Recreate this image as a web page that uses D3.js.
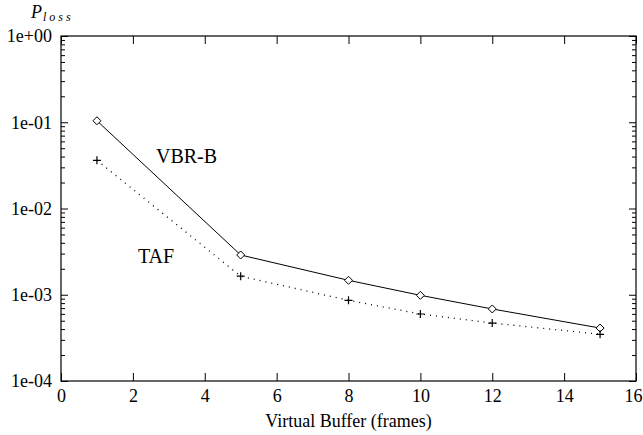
<!DOCTYPE html>
<html>
<head>
<meta charset="utf-8">
<script src="https://cdn.jsdelivr.net/npm/d3@7"></script>
<style>
  body { margin: 0; background: #fff; }
  svg { display: block; }
  svg text { font-family: "Liberation Serif", "Times New Roman", serif; fill: #000; }
  .axis text { font-size: 18px; }
  .axis line { stroke: #000; }
</style>
</head>
<body>
<div id="chart"></div>
<script>
// data
var bufferSizes = [1, 5, 8, 10, 12, 15];
var vbrB = [0.104, 0.00289, 0.00147, 0.000985, 0.000684, 0.000411];
var taf = [0.0362, 0.00164, 0.000862, 0.000598, 0.00047, 0.000348];
var xTicks = [0, 2, 4, 6, 8, 10, 12, 14, 16];
var yTicks = [1e-4, 1e-3, 1e-2, 1e-1, 1];

var serif = '"Liberation Serif", "Times New Roman", serif';
var svgWidth = 643;
var svgHeight = 435;
var margin = { top: 36, right: 7, bottom: 54, left: 61 };
var chartWidth = svgWidth - margin.left - margin.right;
var chartHeight = svgHeight - margin.top - margin.bottom;

var svg = d3.select("#chart").append("svg")
    .attr("width", svgWidth)
    .attr("height", svgHeight);

var chartGroup = svg.append("g")
    .attr("transform", `translate(${margin.left}, ${margin.top})`);

var xScale = d3.scaleLinear().domain([0, 16]).range([0, chartWidth]);
var yScale = d3.scaleLog().domain([1e-4, 1]).range([chartHeight, 0]);

// minor ticks 2..9 in every decade
var minorTicks = [];
for (var e = -4; e < 0; e++) {
    for (var m = 2; m <= 9; m++) minorTicks.push(m * Math.pow(10, e));
}

function expFormat(d) {
    var p = Math.round(Math.log10(d));
    return "1e" + (p >= 0 ? "+" : "-") + String(Math.abs(p)).padStart(2, "0");
}

// bottom axis with labels
var xAxis = chartGroup.append("g")
    .attr("class", "axis")
    .attr("transform", `translate(0, ${chartHeight})`)
    .call(d3.axisBottom(xScale).tickValues(xTicks).tickSize(-8).tickSizeOuter(0).tickPadding(8).tickFormat(d3.format("d")))
    .attr("font-family", serif)
    .call(g => g.select(".domain").remove());
// keep the last label inside the window
xAxis.selectAll(".tick text").filter(d => d === 16).attr("dx", -3);

// top axis ticks only
chartGroup.append("g")
    .attr("class", "axis")
    .call(d3.axisTop(xScale).tickValues(xTicks).tickSize(-8).tickSizeOuter(0).tickFormat(""))
    .call(g => g.select(".domain").remove());

// left axis
chartGroup.append("g")
    .attr("class", "axis")
    .call(d3.axisLeft(yScale).tickValues(yTicks).tickSize(-7).tickSizeOuter(0).tickPadding(9).tickFormat(expFormat))
    .attr("font-family", serif)
    .call(g => g.select(".domain").remove());

chartGroup.append("g")
    .attr("class", "axis")
    .call(d3.axisLeft(yScale).tickValues(minorTicks).tickSize(-4).tickSizeOuter(0).tickFormat(""))
    .call(g => g.select(".domain").remove());

// right axis ticks only
chartGroup.append("g")
    .attr("class", "axis")
    .attr("transform", `translate(${chartWidth}, 0)`)
    .call(d3.axisRight(yScale).tickValues(yTicks).tickSize(-7).tickSizeOuter(0).tickFormat(""))
    .call(g => g.select(".domain").remove());

chartGroup.append("g")
    .attr("class", "axis")
    .attr("transform", `translate(${chartWidth}, 0)`)
    .call(d3.axisRight(yScale).tickValues(minorTicks).tickSize(-4).tickSizeOuter(0).tickFormat(""))
    .call(g => g.select(".domain").remove());

// frame
chartGroup.append("rect")
    .attr("x", 0)
    .attr("y", 0)
    .attr("width", chartWidth)
    .attr("height", chartHeight)
    .attr("fill", "none")
    .attr("stroke", "#000")
    .attr("stroke-width", 1.2);

var line = d3.line()
    .x(d => xScale(d[0]))
    .y(d => yScale(d[1]));

var vbrData = bufferSizes.map((x, i) => [x, vbrB[i]]);
var tafData = bufferSizes.map((x, i) => [x, taf[i]]);

chartGroup.append("path")
    .datum(vbrData)
    .attr("d", line)
    .attr("fill", "none")
    .attr("stroke", "#000")
    .attr("stroke-width", 1);

chartGroup.append("path")
    .datum(tafData)
    .attr("d", line)
    .attr("fill", "none")
    .attr("stroke", "#000")
    .attr("stroke-width", 1.3)
    .attr("stroke-dasharray", "1,5");

// diamond markers
chartGroup.append("g").selectAll("path")
    .data(vbrData)
    .enter()
    .append("path")
    .attr("transform", d => `translate(${xScale(d[0])}, ${yScale(d[1])})`)
    .attr("d", "M0,-4L4,0L0,4L-4,0Z")
    .attr("fill", "#fff")
    .attr("stroke", "#000")
    .attr("stroke-width", 1);

// plus markers
chartGroup.append("g").selectAll("path")
    .data(tafData)
    .enter()
    .append("path")
    .attr("transform", d => `translate(${xScale(d[0])}, ${yScale(d[1])})`)
    .attr("d", "M-4,0H4M0,-4V4")
    .attr("fill", "none")
    .attr("stroke", "#000")
    .attr("stroke-width", 1.2);

// series labels
svg.append("text")
    .attr("x", 156)
    .attr("y", 163)
    .attr("font-family", serif)
    .attr("font-size", 20)
    .text("VBR-B");

svg.append("text")
    .attr("x", 138)
    .attr("y", 263)
    .attr("font-family", serif)
    .attr("font-size", 20)
    .text("TAF");

// axis titles
svg.append("text")
    .attr("x", margin.left + chartWidth / 2)
    .attr("y", 427)
    .attr("text-anchor", "middle")
    .attr("font-family", serif)
    .attr("font-size", 18)
    .text("Virtual Buffer (frames)");

var yTitle = svg.append("text")
    .attr("x", 31)
    .attr("y", 18)
    .attr("font-family", serif)
    .attr("font-size", 18)
    .attr("font-style", "italic");
yTitle.append("tspan").text("P");
yTitle.append("tspan")
    .attr("dx", 1)
    .attr("dy", 3)
    .attr("font-size", 12)
    .attr("letter-spacing", 3)
    .text("loss");
</script>
</body>
</html>
